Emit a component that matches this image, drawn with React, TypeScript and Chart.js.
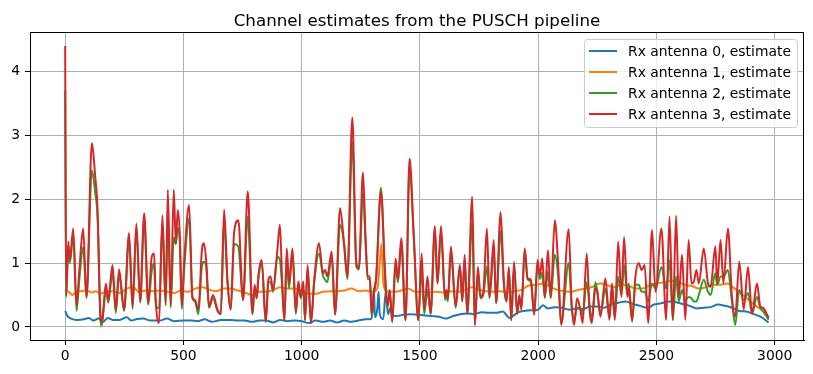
import React, { useEffect, useRef } from "react";
import { Chart, registerables } from "chart.js";

Chart.register(...registerables);

const TITLE = "Channel estimates from the PUSCH pipeline";
const seriesLabels = [
  "Rx antenna 0, estimate",
  "Rx antenna 1, estimate",
  "Rx antenna 2, estimate",
  "Rx antenna 3, estimate",
];
const seriesColors = ["#1f77b4", "#ff7f0e", "#2ca02c", "#d62728"];
const xTicks = [0, 500, 1000, 1500, 2000, 2500, 3000];
const yTicks = [0, 1, 2, 3, 4];

// Antenna 2 & 3 share sample positions (subcarrier index)
const rgX = [
  0, 4, 13, 20, 34, 48, 60, 76, 90, 113, 127, 137, 148, 155, 162, 172, 182, 200, 214, 228, 249, 270, 285, 301, 317, 334, 351, 366, 376, 383, 397, 411, 425, 434, 446, 459, 468, 476, 485, 493, 503, 524, 538, 549, 563, 578, 587, 597, 608, 625, 644, 658, 672, 686, 700, 714,
  732, 752, 772, 792, 801, 810, 817, 831, 848, 859, 868, 879, 897, 908, 918, 927, 937, 946, 961, 975, 986, 996, 1007, 1014, 1025, 1039, 1053, 1073, 1090, 1099, 1108, 1127, 1141, 1162, 1179, 1193, 1214, 1231, 1242, 1259, 1270, 1279, 1288, 1296, 1305, 1315, 1335, 1352, 1362, 1372, 1383, 1397, 1407, 1421, 1439, 1456, 1474,
  1493, 1507, 1518, 1532, 1545, 1563, 1574, 1589, 1606, 1612, 1618, 1631, 1651, 1669, 1679, 1689, 1700, 1721, 1732, 1745, 1756, 1768, 1783, 1794, 1812, 1822, 1841, 1855, 1866, 1876, 1886, 1898, 1911, 1920, 1929, 1943, 1955, 1969, 1983, 1997, 2007, 2017, 2028, 2041, 2053, 2070, 2084, 2097, 2129, 2141, 2152, 2164, 2178, 2188, 2205, 2217, 2226,
  2242, 2250, 2263, 2284, 2301, 2312, 2324, 2338, 2352, 2363, 2377, 2383, 2397, 2411, 2425, 2437, 2450, 2465, 2481, 2496, 2521, 2541, 2555, 2569, 2583, 2594, 2608, 2622, 2636, 2648, 2658, 2669, 2679, 2700, 2718, 2729, 2749, 2757, 2771, 2783, 2802, 2819, 2833, 2850, 2869, 2887, 2904, 2925, 2939, 2950, 2974,
];

const ant3 = [
  4.4, 0.5, 1.34, 1.05, 1.54, 0.34, 0.9, 1.54, 0.47, 2.88, 2.35, 1.83, 0.27, 0.06, 0.3, 0.68, 0.42, 0.97, 0.27, 0.9, 0.27, 1.47, 0.32, 1.62, 0.4, 1.78, 0.37, 1.1, 1.15, 0.42, 0.06, 1.75, 0.37, 2.15, 0.34, 2.15, 1.3, 1.83, 1.41, 0.32, 1.02, 1.91, 0.47, 0.42, 0.27, 1.2, 1.31, 1.0, 0.32, 0.5, 0.27, 0.21, 1.84, 0.74, 0.27, 1.47,
  1.67, 0.42, 2.12, 0.21, 0.66, 0.45, 0.81, 1.05, 0.08, 0.74, 0.79, 0.58, 1.2, 1.6, 0.63, 0.11, 1.23, 0.68, 1.23, 0.24, 0.71, 0.47, 0.71, 0.11, 0.97, 0.06, 0.74, 1.31, 0.84, 0.89, 0.79, 1.18, 0.19, 1.86, 1.31, 0.79, 3.28, 1.0, 0.92, 2.42, 1.41, 0.79, 0.79, 0.21, 0.55, 0.79, 2.12, 0.89, 0.32, 0.58, 0.08, 1.07, 0.74, 1.39, 0.11, 2.64, 1.41,
  0.11, 1.15, 0.27, 0.79, 0.21, 1.58, 0.68, 1.58, 0.47, 0.58, 0.45, 1.26, 0.32, 0.97, 0.4, 1.13, 0.21, 2.04, 0.03, 0.94, 0.47, 0.55, 1.54, 0.47, 1.36, 0.37, 1.8, 0.68, 0.4, 0.94, 0.11, 1.02, 0.21, 0.5, 0.27, 1.23, 0.76, 0.74, 0.19, 1.05, 0.8, 1.07, 0.47, 1.2, 0.47, 1.67, 1.0, 0.03, 1.53, 0.37, 0.03, 0.45, 0.27, 0.06, 1.15, 0.27, 0.06,
  0.6, 0.55, 0.16, 0.76, 0.11, 0.68, 0.11, 1.34, 0.47, 1.41, 0.47, 0.6, 0.11, 0.79, 1.0, 0.89, 0.97, 0.06, 1.52, 0.55, 1.54, 0.11, 1.73, 0.11, 1.74, 0.47, 1.13, 0.11, 1.36, 0.68, 0.71, 0.89, 0.68, 1.23, 0.68, 0.63, 1.26, 0.68, 1.36, 0.68, 1.54, 0.47, 0.16, 1.02, 0.27, 0.94, 0.21, 0.68, 0.32, 0.3, 0.14,
];

const ant2 = [
  3.7, 0.47, 1.2, 1.0, 1.45, 0.25, 0.75, 1.25, 0.45, 2.45, 2.1, 1.7, 0.2, 0.02, 0.25, 0.6, 0.38, 0.85, 0.22, 0.82, 0.25, 1.4, 0.28, 1.55, 0.38, 1.7, 0.35, 0.88, 1.0, 0.3, 0.3, 1.6, 0.33, 1.85, 0.3, 1.4, 1.3, 1.55, 1.3, 0.28, 0.9, 1.7, 0.45, 0.4, 0.2, 0.95, 1.02, 0.9, 0.3, 0.45, 0.25, 0.2, 1.65, 0.7, 0.27, 1.3,
  1.26, 0.42, 1.73, 0.2, 0.6, 0.45, 0.75, 1.0, 0.08, 0.7, 0.7, 0.55, 1.1, 1.05, 0.6, 0.1, 1.15, 0.6, 1.15, 0.2, 0.65, 0.45, 0.6, 0.1, 0.9, 0.06, 0.7, 1.15, 0.8, 0.74, 0.7, 1.1, 0.2, 1.6, 1.3, 0.75, 2.9, 0.95, 0.9, 2.1, 1.3, 0.75, 0.75, 0.15, 0.5, 0.75, 2.18, 0.8, 0.3, 0.55, 0.08, 1.0, 0.7, 1.3, 0.1, 2.5, 1.4,
  0.1, 0.9, 0.2, 0.58, 0.2, 1.5, 0.68, 1.5, 0.42, 0.5, 0.4, 1.15, 0.3, 0.95, 0.4, 1.05, 0.2, 1.65, 0.03, 0.85, 0.45, 0.5, 0.95, 0.45, 1.2, 0.37, 1.5, 0.65, 0.4, 0.9, 0.1, 0.95, 0.2, 0.45, 0.3, 1.2, 0.75, 0.7, 0.2, 0.95, 0.75, 0.85, 0.45, 0.87, 0.45, 1.13, 0.8, 0.05, 1.0, 0.35, 0.1, 0.3, 0.3, 0.2, 0.7, 0.35, 0.1,
  0.7, 0.55, 0.2, 0.6, 0.15, 0.6, 0.15, 0.79, 0.5, 0.97, 0.5, 0.68, 0.08, 0.66, 0.66, 0.55, 0.55, 0.4, 0.68, 0.6, 0.94, 0.6, 1.05, 0.11, 0.79, 0.4, 0.58, 0.42, 0.47, 0.45, 0.4, 0.4, 0.5, 0.74, 0.55, 0.5, 0.84, 0.66, 0.79, 0.79, 0.89, 0.4, 0.03, 0.58, 0.42, 0.53, 0.21, 0.47, 0.3, 0.25, 0.11,
];

const ant0X = [
  0, 10, 25, 50, 80, 100, 120, 140, 160, 180, 200, 230, 260, 280, 300, 330, 360, 400, 430, 460, 500, 530, 560, 590, 620, 660, 700, 730, 760, 790, 820, 850, 880, 910, 940, 970, 1000, 1030, 1060, 1090, 1120, 1150, 1180, 1210, 1240, 1270, 1290, 1300, 1305, 1310, 1320, 1325, 1330, 1345, 1355, 1365, 1375, 1385, 1400, 1430, 1460, 1490, 1520, 1550, 1580, 1610, 1640, 1670, 1700, 1730, 1760, 1790, 1820, 1850, 1880, 1910, 1940, 1970, 2000, 2020, 2040, 2070, 2100, 2130, 2160, 2190, 2220, 2250, 2280, 2310, 2340, 2370, 2400, 2430, 2460, 2490, 2520, 2550, 2580, 2610, 2640, 2670, 2700, 2730, 2760, 2790, 2820, 2850, 2880, 2910, 2940, 2974,
];
const ant0 = [
  0.25, 0.17, 0.13, 0.11, 0.12, 0.14, 0.1, 0.13, 0.08, 0.14, 0.11, 0.11, 0.15, 0.1, 0.12, 0.13, 0.1, 0.1, 0.13, 0.09, 0.1, 0.1, 0.09, 0.12, 0.08, 0.11, 0.11, 0.1, 0.1, 0.08, 0.1, 0.1, 0.07, 0.11, 0.09, 0.1, 0.09, 0.06, 0.1, 0.08, 0.1, 0.07, 0.1, 0.08, 0.1, 0.12, 0.12, 0.25, 0.6, 0.15, 0.3, 0.55, 0.2, 0.12, 0.55, 0.2, 0.3, 0.18, 0.17, 0.19, 0.2, 0.19, 0.18, 0.17, 0.16, 0.13, 0.17, 0.2, 0.21, 0.2, 0.23, 0.22, 0.22, 0.24, 0.14, 0.22, 0.25, 0.26, 0.27, 0.34, 0.29, 0.31, 0.3, 0.27, 0.29, 0.28, 0.32, 0.32, 0.3, 0.36, 0.38, 0.4, 0.36, 0.33, 0.3, 0.35, 0.37, 0.4, 0.39, 0.36, 0.33, 0.29, 0.3, 0.31, 0.35, 0.33, 0.3, 0.25, 0.24, 0.2, 0.16, 0.07,
];

const ant1X = [
  0, 15, 30, 50, 70, 90, 110, 130, 150, 170, 200, 230, 260, 290, 310, 340, 370, 400, 430, 460, 490, 520, 550, 580, 610, 640, 670, 700, 730, 760, 790, 820, 850, 880, 910, 940, 970, 1000, 1030, 1060, 1090, 1120, 1150, 1180, 1210, 1240, 1270, 1300, 1320, 1330, 1337, 1345, 1360, 1390, 1420, 1450, 1480, 1510, 1540, 1570, 1600, 1630, 1660, 1690, 1720, 1750, 1780, 1810, 1840, 1870, 1900, 1930, 1960, 1990, 2020, 2050, 2080, 2110, 2140, 2170, 2200, 2230, 2260, 2290, 2320, 2350, 2380, 2410, 2440, 2470, 2500, 2530, 2560, 2590, 2620, 2650, 2680, 2710, 2740, 2770, 2800, 2830, 2860, 2890, 2920, 2950, 2974,
];
const ant1 = [
  0.58, 0.55, 0.5, 0.55, 0.56, 0.58, 0.54, 0.56, 0.52, 0.55, 0.56, 0.53, 0.6, 0.62, 0.55, 0.57, 0.56, 0.57, 0.55, 0.53, 0.57, 0.55, 0.6, 0.62, 0.58, 0.56, 0.6, 0.6, 0.57, 0.54, 0.5, 0.55, 0.55, 0.58, 0.62, 0.6, 0.6, 0.56, 0.52, 0.52, 0.55, 0.56, 0.56, 0.57, 0.6, 0.56, 0.57, 0.55, 0.6, 1.0, 1.3, 0.7, 0.56, 0.55, 0.57, 0.6, 0.55, 0.55, 0.54, 0.55, 0.54, 0.56, 0.55, 0.58, 0.62, 0.58, 0.56, 0.55, 0.56, 0.54, 0.56, 0.58, 0.65, 0.66, 0.68, 0.63, 0.58, 0.56, 0.55, 0.58, 0.6, 0.63, 0.68, 0.66, 0.62, 0.66, 0.65, 0.6, 0.6, 0.65, 0.68, 0.7, 0.72, 0.7, 0.66, 0.64, 0.6, 0.62, 0.66, 0.66, 0.68, 0.6, 0.52, 0.42, 0.33, 0.25, 0.15,
];

const FONT = "'DejaVu Sans', sans-serif";

function pts(xs: number[], ys: number[]) {
  return xs.map((x, i) => ({ x, y: ys[i] }));
}

const decorPlugin = {
  id: "decor",
  afterDatasetsDraw(chart: any) {
    const { ctx, chartArea: a } = chart;
    ctx.save();
    ctx.strokeStyle = "#000";
    ctx.lineWidth = 1;
    ctx.strokeRect(Math.round(a.left) + 0.5, Math.round(a.top) + 0.5, Math.round(a.right - a.left) - 1, Math.round(a.bottom - a.top));
    ctx.fillStyle = "#000";
    ctx.font = `16.7px ${FONT}`;
    ctx.textAlign = "center";
    ctx.textBaseline = "alphabetic";
    ctx.fillText(TITLE, (a.left + a.right) / 2, 25.5);
    const bx = 584.5, by = 39.5, bw = 213, bh = 88, r = 3;
    ctx.beginPath();
    ctx.moveTo(bx + r, by);
    ctx.lineTo(bx + bw - r, by);
    ctx.arcTo(bx + bw, by, bx + bw, by + r, r);
    ctx.lineTo(bx + bw, by + bh - r);
    ctx.arcTo(bx + bw, by + bh, bx + bw - r, by + bh, r);
    ctx.lineTo(bx + r, by + bh);
    ctx.arcTo(bx, by + bh, bx, by + bh - r, r);
    ctx.lineTo(bx, by + r);
    ctx.arcTo(bx, by, bx + r, by, r);
    ctx.closePath();
    ctx.fillStyle = "rgba(255,255,255,0.8)";
    ctx.fill();
    ctx.strokeStyle = "#cccccc";
    ctx.lineWidth = 1;
    ctx.stroke();
    ctx.font = `13.9px ${FONT}`;
    ctx.textAlign = "left";
    ctx.textBaseline = "middle";
    seriesLabels.forEach((lab, i) => {
      const yy = 51 + i * 21;
      ctx.strokeStyle = seriesColors[i];
      ctx.lineWidth = 2;
      ctx.beginPath();
      ctx.moveTo(589, yy);
      ctx.lineTo(617, yy);
      ctx.stroke();
      ctx.fillStyle = "#000";
      ctx.fillText(lab, 628, yy + 1);
    });
    ctx.restore();
  },
};

export default function App() {
  const ref = useRef<HTMLCanvasElement | null>(null);
  useEffect(() => {
    if (!ref.current) return;
    const series = [pts(ant0X, ant0), pts(ant1X, ant1), pts(rgX, ant2), pts(rgX, ant3)];
    const chart = new Chart(ref.current, {
      type: "line",
      data: {
        datasets: series.map((d, i) => ({
          label: seriesLabels[i],
          data: d,
          borderColor: seriesColors[i],
          backgroundColor: seriesColors[i],
          borderWidth: 2,
          pointRadius: 0,
          fill: false,
          cubicInterpolationMode: "monotone" as const,
          order: 4 - i,
        })),
      },
      options: {
        responsive: false,
        animation: false,
        devicePixelRatio: 1,
        layout: { padding: { top: 32, right: 9, left: 0, bottom: 0 } },
        plugins: { legend: { display: false }, title: { display: false }, tooltip: { enabled: false } },
        scales: {
          x: {
            type: "linear",
            min: -148.75,
            max: 3123.75,
            afterFit: (s: any) => { s.height = 34; },
            afterBuildTicks: (s: any) => { s.ticks = xTicks.map((v) => ({ value: v })); },
            ticks: { color: "#000", font: { family: FONT, size: 13.9 }, padding: 3, maxRotation: 0, includeBounds: false, callback: (v: any) => String(v) },
            grid: { color: "#b0b0b0", lineWidth: 1, tickColor: "#000", tickLength: 5 },
            border: { display: true, color: "#000", width: 1 },
          },
          y: {
            type: "linear",
            min: -0.205,
            max: 4.62,
            afterFit: (s: any) => { s.width = 30; },
            afterBuildTicks: (s: any) => { s.ticks = yTicks.map((v) => ({ value: v })); },
            ticks: { color: "#000", font: { family: FONT, size: 13.9 }, padding: 5, includeBounds: false, callback: (v: any) => String(v) },
            grid: { color: "#b0b0b0", lineWidth: 1, tickColor: "#000", tickLength: 5 },
            border: { display: true, color: "#000", width: 1 },
          },
        },
      },
      plugins: [decorPlugin],
    });
    return () => chart.destroy();
  }, []);
  return (
    <div style={{ position: "absolute", left: 0, top: 0, width: 813, height: 374, background: "#fff" }}>
      <canvas ref={ref} width={813} height={374} />
    </div>
  );
}
